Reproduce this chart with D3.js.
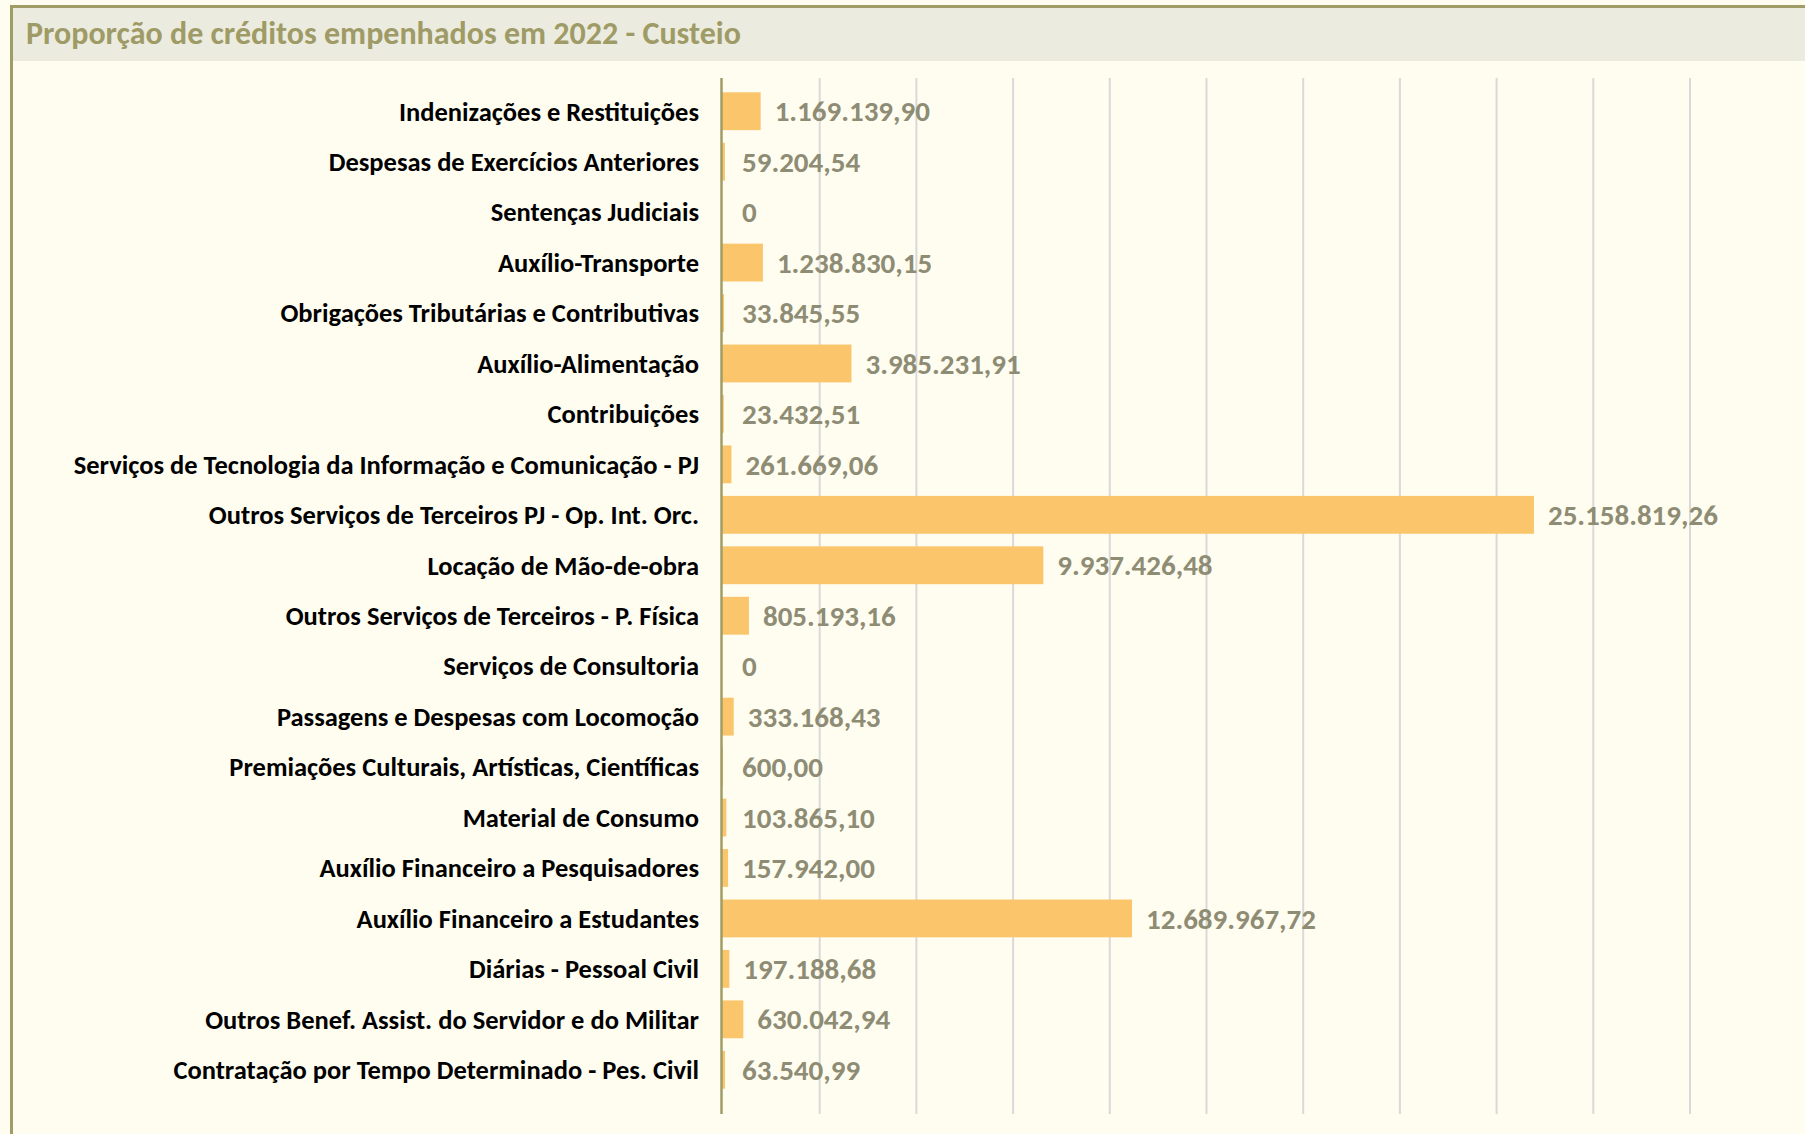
<!DOCTYPE html>
<html>
<head>
<meta charset="utf-8">
<script src="https://cdn.jsdelivr.net/npm/d3@7"></script>
<style>
	body { margin: 0; background: #fffdf0; }
	svg { display: block; font-family: Carlito, Calibri, Lato, sans-serif; }
</style>
</head>
<body>
<svg id="chart"></svg>
<script>
const categories = [
	"Indenizações e Restituições",
	"Despesas de Exercícios Anteriores",
	"Sentenças Judiciais",
	"Auxílio-Transporte",
	"Obrigações Tributárias e Contributivas",
	"Auxílio-Alimentação",
	"Contribuições",
	"Serviços de Tecnologia da Informação e Comunicação - PJ",
	"Outros Serviços de Terceiros PJ - Op. Int. Orc.",
	"Locação de Mão-de-obra",
	"Outros Serviços de Terceiros - P. Física",
	"Serviços de Consultoria",
	"Passagens e Despesas com Locomoção",
	"Premiações Culturais, Artísticas, Científicas",
	"Material de Consumo",
	"Auxílio Financeiro a Pesquisadores",
	"Auxílio Financeiro a Estudantes",
	"Diárias - Pessoal Civil",
	"Outros Benef. Assist. do Servidor e do Militar",
	"Contratação por Tempo Determinado - Pes. Civil"
];

const values = [
	1169139.9, 59204.54, 0, 1238830.15, 33845.55, 3985231.91, 23432.51,
	261669.06, 25158819.26, 9937426.48, 805193.16, 0, 333168.43, 600.0,
	103865.1, 157942.0, 12689967.72, 197188.68, 630042.94, 63540.99
];

const xTicks = [3e6, 6e6, 9e6, 12e6, 15e6, 18e6, 21e6, 24e6, 27e6, 30e6];

const title = "Proporção de créditos empenhados em 2022 - Custeio";

const data = categories.map((c, i) => ({ name: c, value: values[i] }));

// set the dimensions and margins of the graph
const width = 1805,
	height = 1134;
const plot = { left: 723, right: 1690, top: 78, bottom: 1114 };

const svg = d3.select("#chart").attr("width", width).attr("height", height);

// frame and title band
svg
	.append("rect")
	.attr("x", 11.5)
	.attr("y", 6.5)
	.attr("width", width)
	.attr("height", height)
	.attr("fill", "#fffdf0")
	.attr("stroke", "#a09c68")
	.attr("stroke-width", 3);

svg
	.append("rect")
	.attr("x", 13)
	.attr("y", 8)
	.attr("width", width)
	.attr("height", 53)
	.attr("fill", "#ecebdf");

// add title
svg
	.append("text")
	.attr("x", 26)
	.attr("y", 44)
	.style("font-size", "32px")
	.style("font-weight", "bold")
	.attr("fill", "#9e9b66")
	.text(title);

const locale = d3.formatLocale({ decimal: ",", thousands: ".", grouping: [3], currency: ["R$", ""] });
const fmt = (v) => (v === 0 ? "0" : locale.format(",.2f")(v));

const x_scale = d3.scaleLinear().domain([0, 30e6]).range([plot.left, plot.right]);

const y_scale = d3
	.scaleBand()
	.domain(categories)
	.range([86, 1095])
	.paddingInner(0.25)
	.paddingOuter(0.125);

// gridlines
svg
	.append("g")
	.selectAll("line")
	.data(xTicks)
	.join("line")
	.attr("x1", (d) => x_scale(d))
	.attr("x2", (d) => x_scale(d))
	.attr("y1", plot.top)
	.attr("y2", plot.bottom)
	.attr("stroke", "#d9d9d9")
	.attr("stroke-width", 2);

// bars (start just under the axis line)
svg
	.append("g")
	.selectAll("rect")
	.data(data)
	.join("rect")
	.attr("x", x_scale(0) - 1)
	.attr("y", (d) => y_scale(d.name))
	.attr("width", (d) => (d.value > 0 ? x_scale(d.value) - x_scale(0) + 1 : 0))
	.attr("height", y_scale.bandwidth())
	.attr("fill", "#fbc56c");

// axis line
svg
	.append("line")
	.attr("x1", x_scale(0) - 1.5)
	.attr("x2", x_scale(0) - 1.5)
	.attr("y1", plot.top)
	.attr("y2", plot.bottom)
	.attr("stroke", "#a09c68")
	.attr("stroke-width", 2.5);

// category labels
svg
	.append("g")
	.selectAll("text")
	.data(data)
	.join("text")
	.attr("x", x_scale(0) - 24)
	.attr("y", (d) => y_scale(d.name) + y_scale.bandwidth() / 2)
	.attr("dy", "0.35em")
	.attr("text-anchor", "end")
	.style("font-size", "26.5px")
	.style("font-weight", "bold")
	.attr("fill", "#000")
	.text((d) => d.name);

// value labels
svg
	.append("g")
	.selectAll("text")
	.data(data)
	.join("text")
	.attr("x", (d) => Math.max(x_scale(d.value) + 14, x_scale(0) + 19))
	.attr("y", (d) => y_scale(d.name) + y_scale.bandwidth() / 2)
	.attr("dy", "0.35em")
	.style("font-size", "29px")
	.style("font-weight", "bold")
	.attr("fill", "#8e8c74")
	.text((d) => fmt(d.value));
</script>
</body>
</html>
